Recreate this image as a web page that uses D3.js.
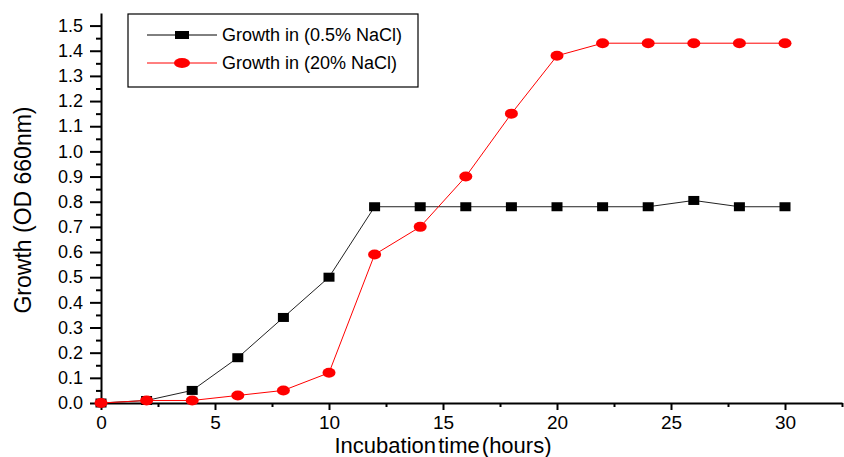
<!DOCTYPE html>
<html><head><meta charset="utf-8">
<script src="https://cdn.jsdelivr.net/npm/d3@7"></script>
<style>
body{margin:0;background:#fff;}
svg{display:block;font-family:"Liberation Sans",Arial,sans-serif;}
</style></head>
<body><svg id="c" width="844" height="457"></svg>
<script>
const hours = [0,2,4,6,8,10,12,14,16,18,20,22,24,26,28,30];
const growthLowSalt = [0,0.01,0.05,0.18,0.34,0.50,0.78,0.78,0.78,0.78,0.78,0.78,0.78,0.805,0.78,0.78];
const growthHighSalt = [0,0.01,0.01,0.03,0.05,0.12,0.59,0.70,0.90,1.15,1.38,1.43,1.43,1.43,1.43,1.43];
const seriesNames = ["Growth in (0.5% NaCl)","Growth in (20% NaCl)"];
const xTickValues = [0,5,10,15,20,25,30];
const yTickValues = [0,0.1,0.2,0.3,0.4,0.5,0.6,0.7,0.8,0.9,1.0,1.1,1.2,1.3,1.4,1.5];
const xTitle = "Incubation time (hours)";
const yTitle = "Growth (OD 660nm)";

const svg = d3.select("#c");
const x = d3.scaleLinear().domain([0,32.5]).range([101,842]);
const y = d3.scaleLinear().domain([0,1.55]).range([403,13]);
const FF = "Liberation Sans, Arial, sans-serif";

// minor ticks
const gx = svg.append("g").attr("transform","translate(0,403)");
gx.call(d3.axisBottom(x).tickValues(d3.range(0,32.6,2.5).filter(v=>v%5!==0)).tickSize(4).tickFormat(""));
gx.call(g=>g.select(".domain").remove());
const gx2 = svg.append("g").attr("transform","translate(0,403)");
gx2.call(d3.axisBottom(x).tickValues(xTickValues).tickSize(7).tickSizeOuter(0).tickPadding(6).tickFormat(d3.format("d")));
gx2.selectAll("text").attr("font-size",19).attr("fill","#000").attr("font-family",FF);
const gy = svg.append("g").attr("transform","translate(101,0)");
gy.call(d3.axisLeft(y).tickValues(d3.range(0.05,1.55,0.1)).tickSize(5).tickFormat(""));
gy.call(g=>g.select(".domain").remove());
const gy2 = svg.append("g").attr("transform","translate(101,0)");
gy2.call(d3.axisLeft(y).tickValues(yTickValues).tickSize(11).tickSizeOuter(0).tickPadding(7).tickFormat(d3.format(".1f")));
gy2.selectAll("text").attr("font-size",18).attr("fill","#000").attr("font-family",FF);
svg.selectAll(".tick line").attr("stroke","#000").attr("stroke-width",2);
svg.selectAll(".domain").attr("stroke","#000").attr("stroke-width",2);

// lines
const lowData = hours.map((h,i)=>[h,growthLowSalt[i]]);
const highData = hours.map((h,i)=>[h,growthHighSalt[i]]);
const line = d3.line().x(d=>x(d[0])).y(d=>y(d[1]));
svg.append("path").attr("d",line(lowData)).attr("fill","none").attr("stroke","#222").attr("stroke-width",1);
svg.append("path").attr("d",line(highData)).attr("fill","none").attr("stroke","#ff0000").attr("stroke-width",1);
svg.selectAll(".sq").data(lowData).enter().append("rect")
  .attr("x",d=>x(d[0])-5.5).attr("y",d=>y(d[1])-4.5).attr("width",11).attr("height",9).attr("fill","#000");
svg.selectAll(".ci").data(highData).enter().append("ellipse")
  .attr("cx",d=>x(d[0])).attr("cy",d=>y(d[1])).attr("rx",6.5).attr("ry",5).attr("fill","#ff0000");

// axis titles
svg.append("text").attr("x",443).attr("y",453).attr("text-anchor","middle").attr("font-size",22)
  .attr("word-spacing","-4").text(xTitle);
svg.append("text").attr("transform","translate(31,210) rotate(-90)").attr("text-anchor","middle").attr("font-size",23).text(yTitle);

// legend
svg.append("rect").attr("x",128).attr("y",14).attr("width",290).attr("height",73).attr("fill","#fff").attr("stroke","#000").attr("stroke-width",1.2);
const leg = [{c:"#000",n:seriesNames[0],y:35,shape:"rect"},{c:"#ff0000",n:seriesNames[1],y:63,shape:"ellipse"}];
leg.forEach(l=>{
  svg.append("line").attr("x1",147).attr("x2",217).attr("y1",l.y).attr("y2",l.y).attr("stroke",l.c).attr("stroke-width",1);
  if(l.shape==="rect") svg.append("rect").attr("x",175).attr("y",l.y-4).attr("width",14).attr("height",8).attr("fill",l.c);
  else svg.append("ellipse").attr("cx",182).attr("cy",l.y).attr("rx",8).attr("ry",5).attr("fill",l.c);
  svg.append("text").attr("x",222).attr("y",l.y+6).attr("font-size",18).text(l.n);
});
</script></body></html>
